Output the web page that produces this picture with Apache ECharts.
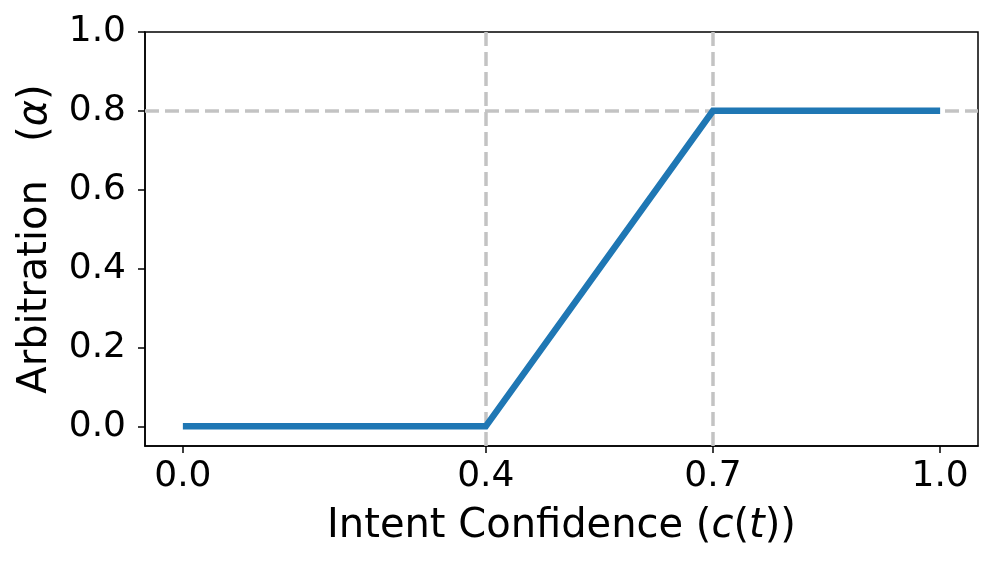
<!DOCTYPE html>
<html>
<head>
<meta charset="utf-8">
<script src="https://cdn.jsdelivr.net/npm/echarts@6/dist/echarts.min.js"></script>
<style>html,body{margin:0;padding:0;background:#fff}#c{width:997px;height:568px}</style>
</head>
<body>
<div id="c"></div>
<script>
const xValues = [0.0, 0.4, 0.7, 1.0];
const alphaValues = [0.0, 0.0, 0.8, 0.8];
const xTicks = [0.0, 0.4, 0.7, 1.0];
const yTicks = [0.0, 0.2, 0.4, 0.6, 0.8, 1.0];
const refX = [0.4, 0.7];
const refY = [0.8];

const FONT = 'DejaVu Sans';
const NS = 40;
const TS = 36;
const chart = echarts.init(document.getElementById('c'), null, {renderer: 'canvas'});
const lineData = xValues.map((x, i) => [x, alphaValues[i]]);
const dashStyle = {color: '#c3c3c3', width: 3.5, type: [14, 6]};
const richName = {
  n: {fontFamily: FONT, fontSize: NS, color: '#000'},
  i: {fontStyle: 'italic', fontFamily: FONT, fontSize: NS, color: '#000'}
};

chart.setOption({
  animation: false,
  backgroundColor: '#fff',
  grid: {left: 145, top: 32, right: 19, bottom: 122, show: true, borderColor: '#000', borderWidth: 1.5, backgroundColor: 'transparent'},
  xAxis: {
    type: 'value', min: -0.05, max: 1.05,
    axisLine: {show: true, onZero: false, lineStyle: {color: '#000', width: 1.5}},
    axisTick: {show: true, inside: false, length: 7, lineStyle: {color: '#000', width: 1.5}, customValues: xTicks},
    axisLabel: {customValues: xTicks, formatter: v => v.toFixed(1), color: '#000', fontFamily: FONT, fontSize: TS, margin: 13},
    splitLine: {show: false},
    name: '{n|Intent Confidence (}{i|c}{n|(}{i|t}{n|))}',
    nameLocation: 'middle', nameGap: 61,
    nameTextStyle: {color: '#000', fontFamily: FONT, fontSize: NS, rich: richName}
  },
  yAxis: {
    type: 'value', min: -0.05, max: 1.0,
    axisLine: {show: true, onZero: false, lineStyle: {color: '#000', width: 1.5}},
    axisTick: {show: true, inside: false, length: 7, lineStyle: {color: '#000', width: 1.5}, customValues: yTicks},
    axisLabel: {customValues: yTicks, formatter: v => v.toFixed(1), color: '#000', fontFamily: FONT, fontSize: TS, margin: 19},
    splitLine: {show: false},
    name: '{n|Arbitration   (}{i|α}{n|)}',
    nameLocation: 'middle', nameGap: 89,
    nameTextStyle: {color: '#000', fontFamily: FONT, fontSize: NS, rich: richName}
  },
  series: [
    {
      type: 'line', data: [], z: 1, silent: true,
      markLine: {
        silent: true, symbol: 'none', animation: false, z: 1,
        label: {show: false},
        lineStyle: dashStyle,
        data: refX.map(x => ({xAxis: x})).concat(refY.map(y => ({yAxis: y})))
      }
    },
    {
      type: 'line', data: lineData, z: 10, showSymbol: false, symbol: 'none',
      lineStyle: {color: '#1f77b4', width: 6.5, cap: 'butt', join: 'miter'},
      itemStyle: {color: '#1f77b4'}
    }
  ]
});
</script>
</body>
</html>
